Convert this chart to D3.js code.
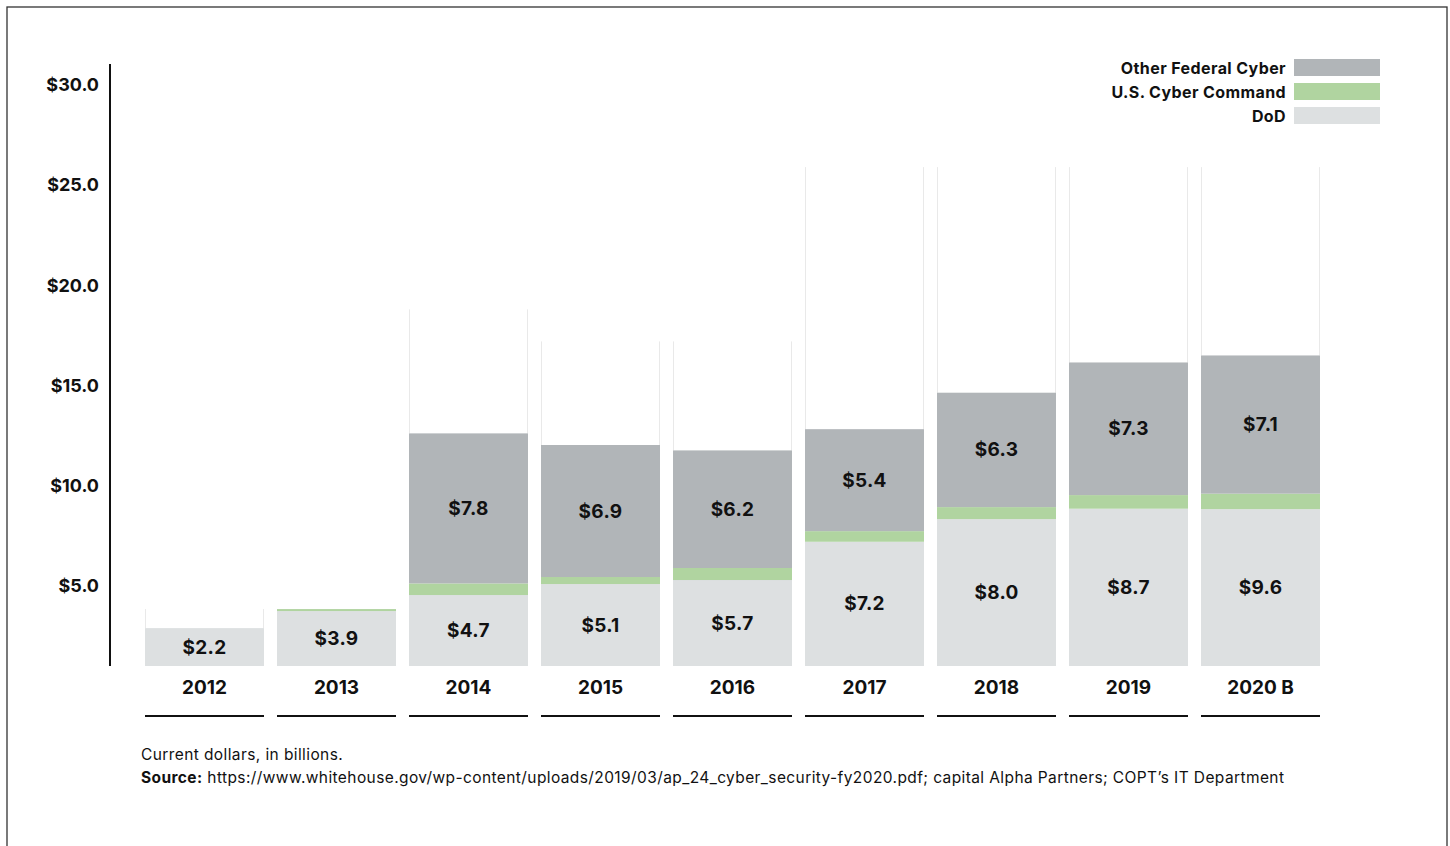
<!DOCTYPE html>
<html><head><meta charset="utf-8">
<script src="https://cdn.jsdelivr.net/npm/d3@7"></script>
<style>
html,body{margin:0;padding:0;background:#fff;}
svg{display:block;font-family:"Inter","Lato",sans-serif;}
</style></head>
<body>
<svg id="chart" width="1450" height="846"></svg>
<script>
// ---- data ----
const years = ["2012","2013","2014","2015","2016","2017","2018","2019","2020 B"];
// bar segment heights as drawn against the axis
const dod   = [2.89, 3.74, 4.54, 5.09, 5.29, 7.20, 8.33, 8.85, 8.83];
const cyber = [0.00, 0.10, 0.58, 0.35, 0.60, 0.53, 0.60, 0.68, 0.77];
const other = [0.00, 0.00, 7.49, 6.59, 5.87, 5.09, 5.71, 6.62, 6.90];
// printed value labels
const dodLabels   = ["$2.2","$3.9","$4.7","$5.1","$5.7","$7.2","$8.0","$8.7","$9.6"];
const otherLabels = ["","","$7.8","$6.9","$6.2","$5.4","$6.3","$7.3","$7.1"];
// faint background column heights
const capacity = [3.84, 3.84, 18.8, 17.2, 17.2, 25.9, 25.9, 25.9, 25.9];
const yTicks = [5, 10, 15, 20, 25, 30];
const seriesNames = ["Other Federal Cyber","U.S. Cyber Command","DoD"];
const seriesColors = ["#b1b5b8","#b0d4a0","#dde0e1"];

const FONT = "Inter, Lato, sans-serif";
const svg = d3.select("#chart");

// frame
svg.append("rect").attr("x",7).attr("y",7).attr("width",1440).attr("height",860)
  .attr("fill","none").attr("stroke","#333").attr("stroke-width",1.3);

const plotBottom = 666;
const x = d3.scaleBand().domain(years).range([145,1320]).paddingInner(13/132).paddingOuter(0);
const y = d3.scaleLinear().domain([0,30]).range([686,85]);

svg.append("defs").append("clipPath").attr("id","plotclip")
  .append("rect").attr("x",0).attr("y",0).attr("width",1450).attr("height",plotBottom);

const g = svg.append("g").attr("clip-path","url(#plotclip)");

const rows = years.map((yr,i)=>({yr, i, dod:dod[i], cyber:cyber[i], other:other[i], cap:capacity[i]}));
const stack = d3.stack().keys(["dod","cyber","other"])(rows);
const colorOf = {dod:seriesColors[2], cyber:seriesColors[1], other:seriesColors[0]};

// background columns (faint side lines)
rows.forEach(r=>{
  const top = y(r.cap), bottom = y(r.dod + r.cyber + r.other);
  [x(r.yr)+0.5, x(r.yr)+x.bandwidth()-0.5].forEach(xx=>{
    g.append("line").attr("x1",xx).attr("x2",xx).attr("y1",top).attr("y2",bottom)
      .attr("stroke","#e9e9e9").attr("stroke-width",1);
  });
});

// stacked bars
stack.forEach(layer=>{
  g.selectAll(null).data(layer).enter().append("rect")
    .attr("x",d=>x(d.data.yr))
    .attr("width",x.bandwidth())
    .attr("y",d=>y(d[1]))
    .attr("height",d=>Math.max(0,y(d[0])-y(d[1])))
    .attr("fill",colorOf[layer.key]);
});

// value labels
function valueLabel(cx, cy, t){
  svg.append("text").attr("x",cx).attr("y",cy)
    .attr("text-anchor","middle").attr("dominant-baseline","central")
    .attr("font-size",19).attr("font-weight",700).attr("letter-spacing",0.3)
    .attr("fill","#111").text(t);
}
rows.forEach(r=>{
  const cx = x(r.yr)+x.bandwidth()/2;
  valueLabel(cx, (y(r.dod)+plotBottom)/2, dodLabels[r.i]);
  if (otherLabels[r.i]) {
    const oTop = y(r.dod+r.cyber+r.other), oBot = y(r.dod+r.cyber);
    valueLabel(cx, (oTop+oBot)/2, otherLabels[r.i]);
  }
});

// y axis
const yAxis = d3.axisLeft(y).tickValues(yTicks).tickSize(0).tickPadding(11)
  .tickFormat(d=>"$"+d3.format(".1f")(d));
const ya = svg.append("g").attr("transform","translate(110,0)").call(yAxis);
ya.select(".domain").remove();
ya.append("line").attr("x1",0).attr("x2",0).attr("y1",64).attr("y2",plotBottom)
  .attr("stroke","#111").attr("stroke-width",2);
ya.selectAll(".tick text").attr("font-size",18).attr("font-weight",700)
  .attr("fill","#111").attr("font-family",FONT);

// x axis labels + underlines
const xa = svg.append("g").attr("transform",`translate(0,${plotBottom})`)
  .call(d3.axisBottom(x).tickSize(0).tickPadding(15));
xa.select(".domain").remove();
xa.selectAll(".tick text").attr("font-size",19).attr("font-weight",700)
  .attr("fill","#111").attr("font-family",FONT);
years.forEach(yr=>{
  svg.append("line").attr("x1",x(yr)).attr("x2",x(yr)+x.bandwidth())
    .attr("y1",716).attr("y2",716).attr("stroke","#111").attr("stroke-width",2);
});

// legend
const lg = svg.append("g");
seriesNames.forEach((n,i)=>{
  const yy = 59 + i*24;
  lg.append("rect").attr("x",1294).attr("y",yy).attr("width",86).attr("height",17)
    .attr("fill",seriesColors[i]);
  lg.append("text").attr("x",1286).attr("y",yy+9).attr("text-anchor","end")
    .attr("dominant-baseline","central").attr("font-size",16).attr("font-weight",700)
    .attr("letter-spacing",0.4).attr("fill","#111").text(n);
});

// footnotes
svg.append("text").attr("x",141).attr("y",760).attr("font-size",15.5).attr("letter-spacing",0.4)
  .attr("fill","#111").text("Current dollars, in billions.");
const src = svg.append("text").attr("x",141).attr("y",783).attr("font-size",15.5)
  .attr("letter-spacing",0.4).attr("fill","#111");
src.append("tspan").attr("font-weight",700).text("Source:");
src.append("tspan").text(" https://www.whitehouse.gov/wp-content/uploads/2019/03/ap_24_cyber_security-fy2020.pdf; capital Alpha Partners; COPT\u2019s IT Department");
</script>
</body></html>
